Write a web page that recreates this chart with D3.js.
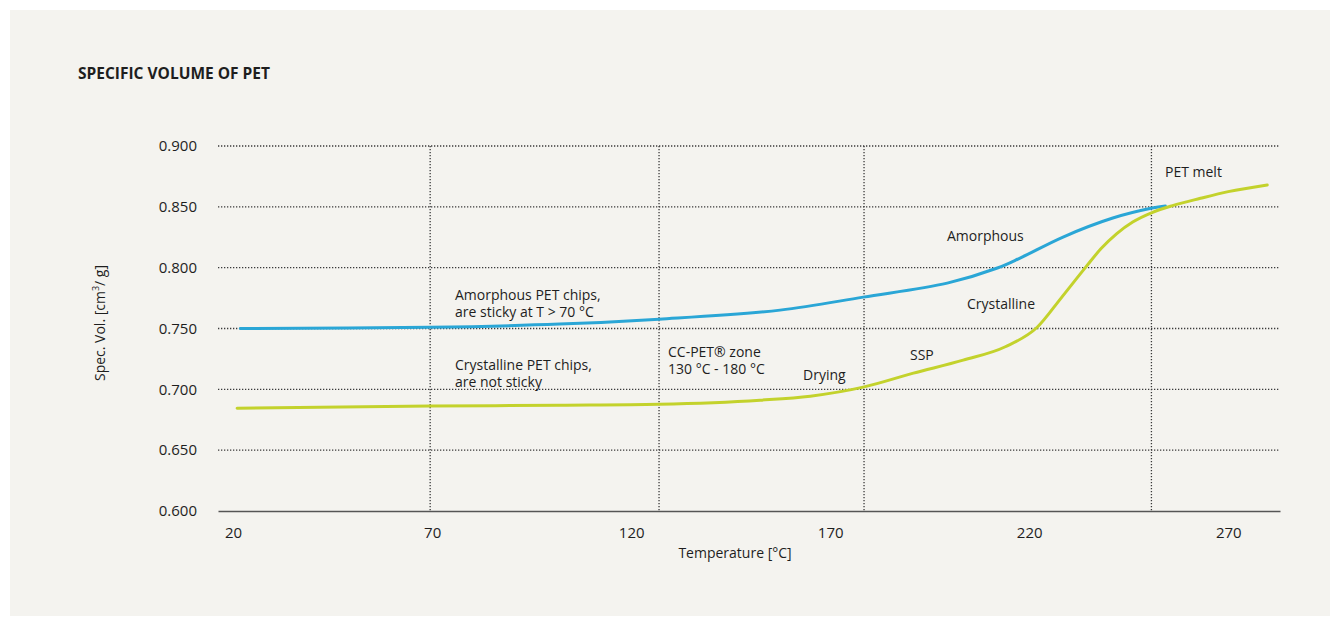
<!DOCTYPE html>
<html>
<head>
<meta charset="utf-8">
<script src="https://cdn.jsdelivr.net/npm/d3@7"></script>
<style>
  html, body { margin: 0; padding: 0; background: #ffffff; }
  svg { display: block; }
  text { font-family: "Open Sans", "DejaVu Sans", sans-serif; fill: #1e1e1e; }
</style>
</head>
<body>
<svg id="chart" width="1336" height="617"></svg>
<script>
// Specific volume of PET (cm³/g) against temperature (°C)
const amorphousT = [21.8, 69.5, 102, 127, 157.4, 178.3, 199.4, 212, 217.7, 228.5, 241, 250.9, 254.2];
const amorphousV = [0.750, 0.751, 0.7536, 0.7577, 0.7651, 0.7758, 0.7873, 0.7997, 0.8079, 0.8252, 0.8408, 0.849, 0.8507];

const crystallineT = [21, 69.5, 102.2, 127, 152.4, 165, 178.3, 190.9, 203.4, 214, 222, 228, 234.1, 238, 242, 246, 251, 256, 263, 270, 279.8];
const crystallineV = [0.6845, 0.6862, 0.687, 0.6878, 0.6911, 0.6944, 0.7018, 0.7133, 0.724, 0.735, 0.751, 0.775, 0.800, 0.8155, 0.828, 0.8375, 0.8455, 0.851, 0.857, 0.8625, 0.868];

const xTicks = [20, 70, 120, 170, 220, 270];
const yTicks = [0.600, 0.650, 0.700, 0.750, 0.800, 0.850, 0.900];
// Vertical reference lines: 70 °C stickiness, CC-PET zone bounds, melt
const xGuides = [69.5, 127, 178.5, 250.7];

const svg = d3.select("#chart");

svg.append("rect")
  .attr("x", 10).attr("y", 10)
  .attr("width", 1320).attr("height", 606)
  .attr("fill", "#f4f3ef");

const x = d3.scaleLinear().domain([16.2, 283]).range([218, 1280]);
const y = d3.scaleLinear().domain([0.600, 0.900]).range([511, 146]);

// Title
svg.append("text")
  .attr("x", 78).attr("y", 79)
  .style("font-size", "15.5px").style("font-weight", "bold")
  .text("SPECIFIC VOLUME OF PET");

// Dotted grid
const grid = svg.append("g");
grid.selectAll("line.h")
  .data(yTicks.filter(v => v > 0.6))
  .join("line")
  .attr("x1", x.range()[0]).attr("x2", x.range()[1])
  .attr("y1", d => y(d)).attr("y2", d => y(d))
  .attr("stroke", "#3a3a3a").attr("stroke-width", 1.3)
  .attr("stroke-dasharray", "1.3,1.7");

grid.selectAll("line.v")
  .data(xGuides)
  .join("line")
  .attr("x1", d => x(d)).attr("x2", d => x(d))
  .attr("y1", y(0.900)).attr("y2", y(0.600))
  .attr("stroke", "#3a3a3a").attr("stroke-width", 1.3)
  .attr("stroke-dasharray", "1.3,1.7");

// Y axis labels
const yAxis = d3.axisLeft(y).tickValues(yTicks).tickFormat(d3.format(".3f")).tickSize(0).tickPadding(21);
svg.append("g")
  .attr("transform", `translate(${x.range()[0]},0)`)
  .call(yAxis)
  .call(g => g.select(".domain").remove())
  .selectAll("text")
  .style("font-family", "'Open Sans', sans-serif")
  .style("font-size", "15px").attr("fill", "#2a2a2a");

// X axis
const xAxis = d3.axisBottom(x).tickValues(xTicks).tickSize(0).tickPadding(16);
svg.append("g")
  .attr("transform", `translate(0,${y(0.600)})`)
  .call(xAxis)
  .call(g => g.select(".domain").attr("stroke", "#555").attr("stroke-width", 1.6))
  .selectAll("text")
  .style("font-family", "'Open Sans', sans-serif")
  .style("font-size", "15px").attr("fill", "#2a2a2a");

svg.append("text")
  .attr("x", 735).attr("y", 558)
  .attr("text-anchor", "middle")
  .style("font-size", "14px")
  .text("Temperature [°C]");

svg.append("text")
  .attr("transform", "translate(105,323) rotate(-90)")
  .attr("text-anchor", "middle")
  .style("font-size", "14px")
  .html('Spec. Vol. [cm<tspan baseline-shift="super" font-size="9px">3</tspan>/ g]');

// Curves
const line = d3.line().x(d => x(d[0])).y(d => y(d[1])).curve(d3.curveMonotoneX);

svg.append("path")
  .datum(d3.zip(amorphousT, amorphousV))
  .attr("d", line.curve(d3.curveCatmullRom.alpha(0.5)))
  .attr("fill", "none").attr("stroke", "#2aa6d6").attr("stroke-width", 3)
  .attr("stroke-linecap", "round");

svg.append("path")
  .datum(d3.zip(crystallineT, crystallineV))
  .attr("d", line.curve(d3.curveMonotoneX))
  .attr("fill", "none").attr("stroke", "#c3d22c").attr("stroke-width", 3)
  .attr("stroke-linecap", "round");

// Annotations
const notes = [
  { x: 455, y: 300, lines: ["Amorphous PET chips,", "are sticky at T > 70 °C"] },
  { x: 455, y: 370, lines: ["Crystalline PET chips,", "are not sticky"] },
  { x: 668, y: 357, lines: ["CC-PET® zone", "130 °C - 180 °C"] },
  { x: 803, y: 380, lines: ["Drying"] },
  { x: 910, y: 360, lines: ["SSP"] },
  { x: 967, y: 309, lines: ["Crystalline"] },
  { x: 947, y: 241, lines: ["Amorphous"] },
  { x: 1165, y: 177, lines: ["PET melt"] }
];

const ann = svg.append("g");
notes.forEach(n => {
  const t = ann.append("text")
    .attr("x", n.x).attr("y", n.y)
    .style("font-size", "14px");
  n.lines.forEach((s, i) => {
    t.append("tspan").attr("x", n.x).attr("dy", i === 0 ? 0 : 17).text(s);
  });
});
</script>
</body>
</html>
